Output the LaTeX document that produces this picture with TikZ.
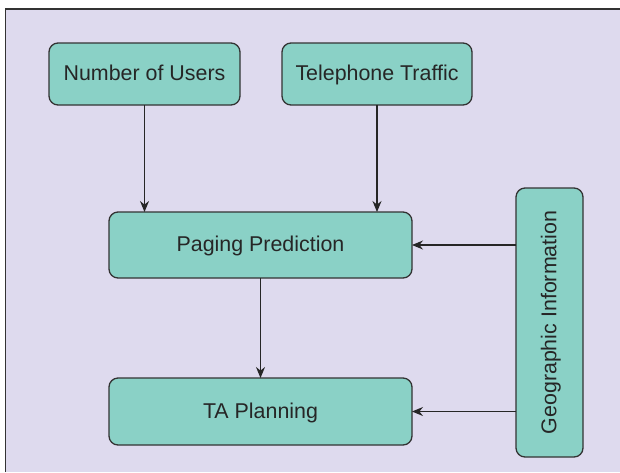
\documentclass[tikz,border=0pt]{standalone}
\usepackage{fontspec}
\setmainfont{Liberation Sans}
\usetikzlibrary{arrows.meta}
\definecolor{panelbg}{HTML}{DEDAEE}
\definecolor{boxfill}{HTML}{8AD1C6}
\definecolor{edge}{HTML}{333333}
\tikzset{
  boxtext/.style={text=black!85, font=\fontsize{21.4}{25}\selectfont,
    text height=15.3pt, text depth=1.5pt},
  box/.style={draw=edge, fill=boxfill, line width=1.3pt, rounded corners=9pt,
    inner sep=0pt, outer sep=0pt, boxtext},
  arr/.style={draw=black!85, line width=1.1pt,
    -{Stealth[length=11pt,width=9pt]}}
}
\begin{document}
\begin{tikzpicture}[x=1pt,y=-1pt]
  \useasboundingbox (0,0) rectangle (620,472);
  % panel background with a frame on the top and left sides
  \fill[panelbg] (5.5,9) rectangle (620,472);
  \draw[edge, line width=1.6pt] (5.5,472) -- (5.5,9) -- (620,9);

  % boxes
  \node[box, minimum width=191pt, minimum height=62pt] (nu) at (144.5,74) {Number of Users};
  \node[box, minimum width=190pt, minimum height=62pt] (tt) at (377,74) {Telephone Traffic};
  \node[box, minimum width=303pt, minimum height=66pt] (pp) at (260.5,245) {Paging Prediction};
  \node[box, minimum width=303pt, minimum height=67pt] (ta) at (260.5,411.5) {TA Planning};
  \node[box, minimum width=67pt, minimum height=269pt] (geo) at (549.5,322.5) {};
  \node[rotate=90, inner sep=0pt, boxtext] (geotext) at (geo.center) {Geographic Information};

  % connectors
  \draw[arr] (nu.south) -- (nu.south |- pp.north);
  \draw[arr] (tt.south) -- (tt.south |- pp.north);
  \draw[arr] (pp.south) -- (ta.north);
  \draw[arr] (geo.west |- pp.east) -- (pp.east);
  \draw[arr] (geo.west |- ta.east) -- (ta.east);
\end{tikzpicture}
\end{document}
